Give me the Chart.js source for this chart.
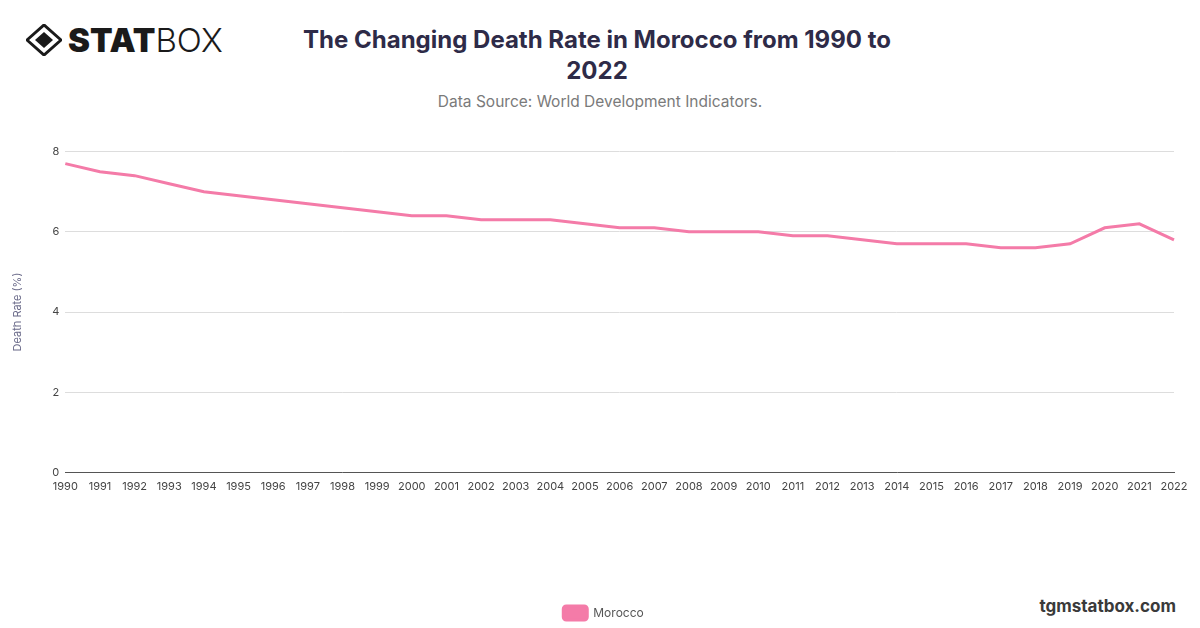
<!DOCTYPE html>
<html>
<head>
<meta charset="utf-8">
<script src="https://cdn.jsdelivr.net/npm/chart.js@4"></script>
<style>
  body { margin: 0; width: 1200px; height: 628px; background: #fff; font-family: Inter, "Noto Sans", sans-serif; position: relative; overflow: hidden; }
  #logo { position: absolute; left: 26px; top: 22px; height: 36px; display: flex; align-items: center; }
  #logo .stat { font-weight: 900; font-size: 33px; color: #1a1a1a; margin-left: 6px; }
  #logo .box { font-weight: 300; font-size: 33px; color: #1a1a1a; }
  #title { position: absolute; left: 287px; width: 620px; top: 24px; text-align: center; font-weight: 700; font-size: 24px; line-height: 31px; color: #2e2b48; }
  #subtitle { position: absolute; left: 0; width: 1200px; top: 92px; text-align: center; font-size: 15.5px; color: #7a7a7a; }
  #site { position: absolute; right: 24px; top: 596px; font-weight: 700; font-size: 17px; color: #3a3a3a; }
  #wrap { position: absolute; left: 0; top: 139px; width: 1200px; height: 491px; }
</style>
</head>
<body>
<div id="logo">
  <svg width="36" height="32" viewBox="0 0 36 32">
    <path d="M18 1 L35 16 L18 31 L1 16 Z" fill="none" stroke="#1a1a1a" stroke-width="3"/>
    <path d="M18 8 L27 16 L18 24 L9 16 Z" fill="#1a1a1a"/>
  </svg>
  <span class="stat">STAT</span><span class="box">BOX</span>
</div>
<div id="title">The Changing Death Rate in Morocco from 1990 to 2022</div>
<div id="subtitle">Data Source: World Development Indicators.</div>
<div id="site">tgmstatbox.com</div>
<div id="wrap"><canvas id="chart"></canvas></div>
<script>
const years = ['1990','1991','1992','1993','1994','1995','1996','1997','1998','1999',
  '2000','2001','2002','2003','2004','2005','2006','2007','2008','2009','2010',
  '2011','2012','2013','2014','2015','2016','2017','2018','2019','2020','2021','2022'];
const deathRate = [7.7, 7.5, 7.4, 7.2, 7.0, 6.9, 6.8, 6.7, 6.6, 6.5,
  6.4, 6.4, 6.3, 6.3, 6.3, 6.2, 6.1, 6.1, 6.0, 6.0, 6.0,
  5.9, 5.9, 5.8, 5.7, 5.7, 5.7, 5.6, 5.6, 5.7, 6.1, 6.2, 5.8];
const yTicks = [0, 2, 4, 6, 8];

const pink = '#f47ba8';
const font = 'Inter, "Noto Sans", sans-serif';

new Chart(document.getElementById('chart'), {
  type: 'line',
  data: {
    labels: years,
    datasets: [{
      label: 'Morocco',
      data: deathRate,
      borderColor: pink,
      backgroundColor: pink,
      borderWidth: 3,
      pointRadius: 0,
      tension: 0,
      fill: false
    }]
  },
  options: {
    responsive: true,
    maintainAspectRatio: false,
    animation: false,
    layout: { padding: { left: 11, right: 26, top: 8, bottom: 0 } },
    scales: {
      x: {
        grid: { display: false },
        border: { display: true, color: '#555', width: 1 },
        ticks: { color: '#444', font: { size: 11, family: font }, maxRotation: 0, autoSkip: false, padding: 0 }
      },
      y: {
        min: 0,
        max: 8,
        afterBuildTicks: axis => { axis.ticks = yTicks.map(v => ({ value: v })); },
        grid: { color: '#dddddd', drawTicks: false },
        border: { display: false },
        ticks: { color: '#444', font: { size: 11, family: font }, padding: 6 },
        title: { display: true, text: 'Death Rate (%)', color: '#6b6b8a', font: { size: 11, family: font }, padding: { top: 0, bottom: 22 } }
      }
    },
    plugins: {
      legend: {
        position: 'bottom',
        title: { display: true, text: ' ', font: { size: 12, family: font }, padding: { top: 88, bottom: 0 } },
        labels: {
          color: '#555',
          font: { size: 12, family: font },
          boxWidth: 24,
          boxHeight: 14,
          useBorderRadius: true,
          borderRadius: 3,
          padding: 10
        },
        onClick: null
      },
      tooltip: { enabled: false }
    }
  },
  plugins: [{
    id: 'legendShift',
    beforeDraw(chart) {
      // the reference legend sits a little right of the canvas centre
      const lg = chart.legend;
      if (!lg._shifted) {
        lg.left += 11;
        lg.right += 11;
        lg._shifted = true;
      }
    }
  }]
});
</script>
</body>
</html>
